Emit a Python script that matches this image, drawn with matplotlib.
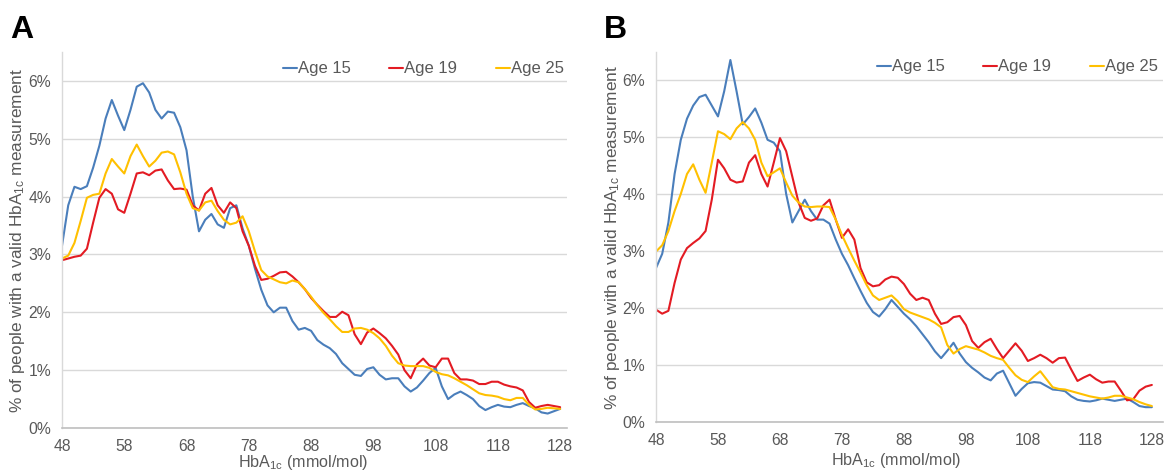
import matplotlib
matplotlib.use("Agg")
import matplotlib.pyplot as plt
from matplotlib.ticker import FuncFormatter

plt.rcParams['font.family'] = ['Liberation Sans', 'DejaVu Sans']
plt.rcParams['mathtext.default'] = 'regular'

hba1c = list(range(48, 129))

a_age15 = [3.15, 3.85, 4.17, 4.13, 4.18, 4.50, 4.88, 5.35, 5.67, 5.40,
           5.15, 5.50, 5.90, 5.96, 5.80, 5.50, 5.35, 5.47, 5.45, 5.20,
           4.80, 4.00, 3.40, 3.60, 3.70, 3.52, 3.46, 3.80, 3.85, 3.45,
           3.15, 2.75, 2.39, 2.12, 2.00, 2.08, 2.08, 1.85, 1.70, 1.73,
           1.68, 1.52, 1.44, 1.38, 1.28, 1.12, 1.02, 0.92, 0.90, 1.02,
           1.05, 0.92, 0.84, 0.86, 0.86, 0.72, 0.63, 0.70, 0.82, 0.95,
           1.04, 0.72, 0.50, 0.58, 0.63, 0.57, 0.50, 0.38, 0.31, 0.36,
           0.40, 0.37, 0.36, 0.40, 0.43, 0.38, 0.34, 0.27, 0.25, 0.29,
           0.33]
a_age19 = [2.90, 2.93, 2.96, 2.98, 3.10, 3.55, 3.98, 4.13, 4.05, 3.78,
           3.72, 4.05, 4.40, 4.42, 4.37, 4.45, 4.47, 4.28, 4.13, 4.14,
           4.12, 3.85, 3.76, 4.05, 4.15, 3.85, 3.72, 3.90, 3.80, 3.40,
           3.15, 2.80, 2.56, 2.58, 2.63, 2.69, 2.70, 2.62, 2.52, 2.40,
           2.25, 2.13, 2.02, 1.92, 1.92, 2.01, 1.95, 1.62, 1.45, 1.65,
           1.72, 1.64, 1.55, 1.42, 1.27, 1.00, 0.86, 1.10, 1.20, 1.08,
           1.05, 1.20, 1.20, 0.95, 0.84, 0.84, 0.82, 0.76, 0.76, 0.80,
           0.80, 0.75, 0.72, 0.70, 0.65, 0.45, 0.35, 0.38, 0.40, 0.38,
           0.36]
a_age25 = [2.93, 2.98, 3.20, 3.58, 3.98, 4.03, 4.05, 4.40, 4.65, 4.52,
           4.40, 4.70, 4.90, 4.70, 4.52, 4.62, 4.76, 4.78, 4.73, 4.42,
           4.05, 3.80, 3.76, 3.90, 3.93, 3.75, 3.60, 3.52, 3.55, 3.66,
           3.40, 3.05, 2.73, 2.62, 2.57, 2.52, 2.50, 2.55, 2.52, 2.40,
           2.27, 2.12, 1.99, 1.88, 1.76, 1.66, 1.66, 1.72, 1.73, 1.70,
           1.64, 1.55, 1.42, 1.25, 1.12, 1.08, 1.07, 1.07, 1.07, 1.04,
           0.97, 0.93, 0.91, 0.86, 0.80, 0.74, 0.67, 0.60, 0.57, 0.56,
           0.54, 0.50, 0.48, 0.52, 0.52, 0.40, 0.32, 0.33, 0.35, 0.34,
           0.33]

b_age15 = [2.70, 2.95, 3.50, 4.35, 4.95, 5.32, 5.55, 5.70, 5.74, 5.55,
           5.36, 5.80, 6.35, 5.80, 5.22, 5.35, 5.50, 5.25, 4.95, 4.90,
           4.75, 4.00, 3.50, 3.70, 3.90, 3.70, 3.55, 3.55, 3.48, 3.20,
           2.95, 2.75, 2.52, 2.30, 2.09, 1.93, 1.85, 1.98, 2.14, 2.02,
           1.90, 1.80, 1.68, 1.54, 1.40, 1.24, 1.12, 1.25, 1.39, 1.20,
           1.05, 0.95, 0.87, 0.78, 0.73, 0.85, 0.90, 0.68, 0.46, 0.58,
           0.68, 0.70, 0.69, 0.63, 0.57, 0.56, 0.54, 0.45, 0.39, 0.37,
           0.36, 0.38, 0.41, 0.39, 0.37, 0.39, 0.41, 0.35, 0.28, 0.26,
           0.26]
b_age19 = [1.97, 1.90, 1.95, 2.44, 2.85, 3.05, 3.14, 3.22, 3.35, 3.90,
           4.60, 4.45, 4.25, 4.20, 4.22, 4.55, 4.68, 4.35, 4.13, 4.55,
           4.98, 4.75, 4.30, 3.85, 3.58, 3.53, 3.57, 3.80, 3.90, 3.55,
           3.23, 3.38, 3.20, 2.70, 2.45, 2.38, 2.40, 2.50, 2.55, 2.53,
           2.42, 2.25, 2.14, 2.18, 2.14, 1.90, 1.72, 1.75, 1.84, 1.86,
           1.70, 1.42, 1.30, 1.40, 1.46, 1.28, 1.12, 1.25, 1.38, 1.25,
           1.07, 1.12, 1.18, 1.12, 1.04, 1.12, 1.13, 0.92, 0.72, 0.78,
           0.83, 0.75, 0.69, 0.71, 0.71, 0.55, 0.38, 0.40, 0.55, 0.62,
           0.65]
b_age25 = [2.99, 3.10, 3.35, 3.70, 4.00, 4.35, 4.52, 4.25, 4.02, 4.55,
           5.10, 5.05, 4.96, 5.15, 5.26, 5.15, 4.95, 4.55, 4.31, 4.38,
           4.45, 4.20, 3.97, 3.85, 3.78, 3.77, 3.78, 3.78, 3.77, 3.55,
           3.28, 3.05, 2.83, 2.62, 2.40, 2.22, 2.14, 2.18, 2.22, 2.12,
           1.98, 1.92, 1.88, 1.84, 1.80, 1.74, 1.66, 1.35, 1.20, 1.28,
           1.33, 1.30, 1.27, 1.22, 1.16, 1.12, 1.09, 0.95, 0.82, 0.74,
           0.70, 0.80, 0.89, 0.75, 0.61, 0.58, 0.57, 0.54, 0.51, 0.48,
           0.45, 0.43, 0.41, 0.43, 0.46, 0.46, 0.43, 0.40, 0.35, 0.31,
           0.28]

series_labels = ["Age 15", "Age 19", "Age 25"]
colors = ["#4A7EBB", "#E31B23", "#FFC000"]
xticks = list(range(48, 129, 10))
yticks = [0, 1, 2, 3, 4, 5, 6]

W, H = 1173, 472
fig = plt.figure(figsize=(W / 100, H / 100), dpi=100)


def px_axes(l, t, r, b):
    return fig.add_axes([l / W, 1 - b / H, (r - l) / W, (b - t) / H])


grey_txt = "#595959"
grid_c = "#D9D9D9"

panels = [
    ("A", (62, 52, 567, 428), 129.1, 6.5, [a_age15, a_age19, a_age25], 10, 283, 69, 18, 303, 472),
    ("B", (656, 52, 1163, 422), 129.8, 6.49, [b_age15, b_age19, b_age25], 604, 877, 67, 612, 896, 470),
]

for letter, box, xmax, ymax, data, lx, legx, legy, ylabx, xlabx, xlaby in panels:
    ax = px_axes(*box)
    for vals, lab, c in zip(data, series_labels, colors):
        ax.plot(hba1c, vals, color=c, lw=1.5, label=lab,
                solid_joinstyle='round', solid_capstyle='round')
    ax.set_xlim(48, xmax)
    ax.set_ylim(0, ymax)
    ax.set_xticks(xticks)
    ax.set_yticks(yticks)
    ax.yaxis.set_major_formatter(FuncFormatter(lambda v, p: f"{v:.0f}%"))
    ax.grid(axis='y', color=grid_c, lw=1.0)
    ax.set_axisbelow(True)
    for s in ['top', 'right']:
        ax.spines[s].set_visible(False)
    ax.spines['left'].set_color(grid_c)
    ax.spines['bottom'].set_color("#BFBFBF")
    ax.spines['left'].set_linewidth(1.0)
    ax.spines['bottom'].set_linewidth(1.2)
    ax.tick_params(axis='both', length=0, labelsize=11.3, colors=grey_txt)
    ax.tick_params(axis='y', pad=8)
    ax.tick_params(axis='x', pad=8)
    fig.text(xlabx / W, 1 - xlaby / H, "HbA$_{1c}$ (mmol/mol)", fontsize=11.6,
             color=grey_txt, ha='center', va='bottom')
    fig.text(ylabx / W, 1 - ((box[1] + box[3]) / 2) / H,
             "% of people with a valid HbA$_{1c}$ measurement",
             rotation=90, ha='center', va='center', fontsize=12.4, color=grey_txt)
    fig.text(lx / W, 1 - 38 / H, letter, fontsize=23, fontweight='bold', va='baseline')
    fig.legend(*ax.get_legend_handles_labels(), loc='center left',
               bbox_to_anchor=(legx / W, 1 - legy / H), ncol=3, frameon=False,
               fontsize=12, handlelength=0.85, handletextpad=0.05, columnspacing=2.3,
               borderpad=0, borderaxespad=0, labelcolor=grey_txt)

fig.savefig("out.png", dpi=100, facecolor="white")
